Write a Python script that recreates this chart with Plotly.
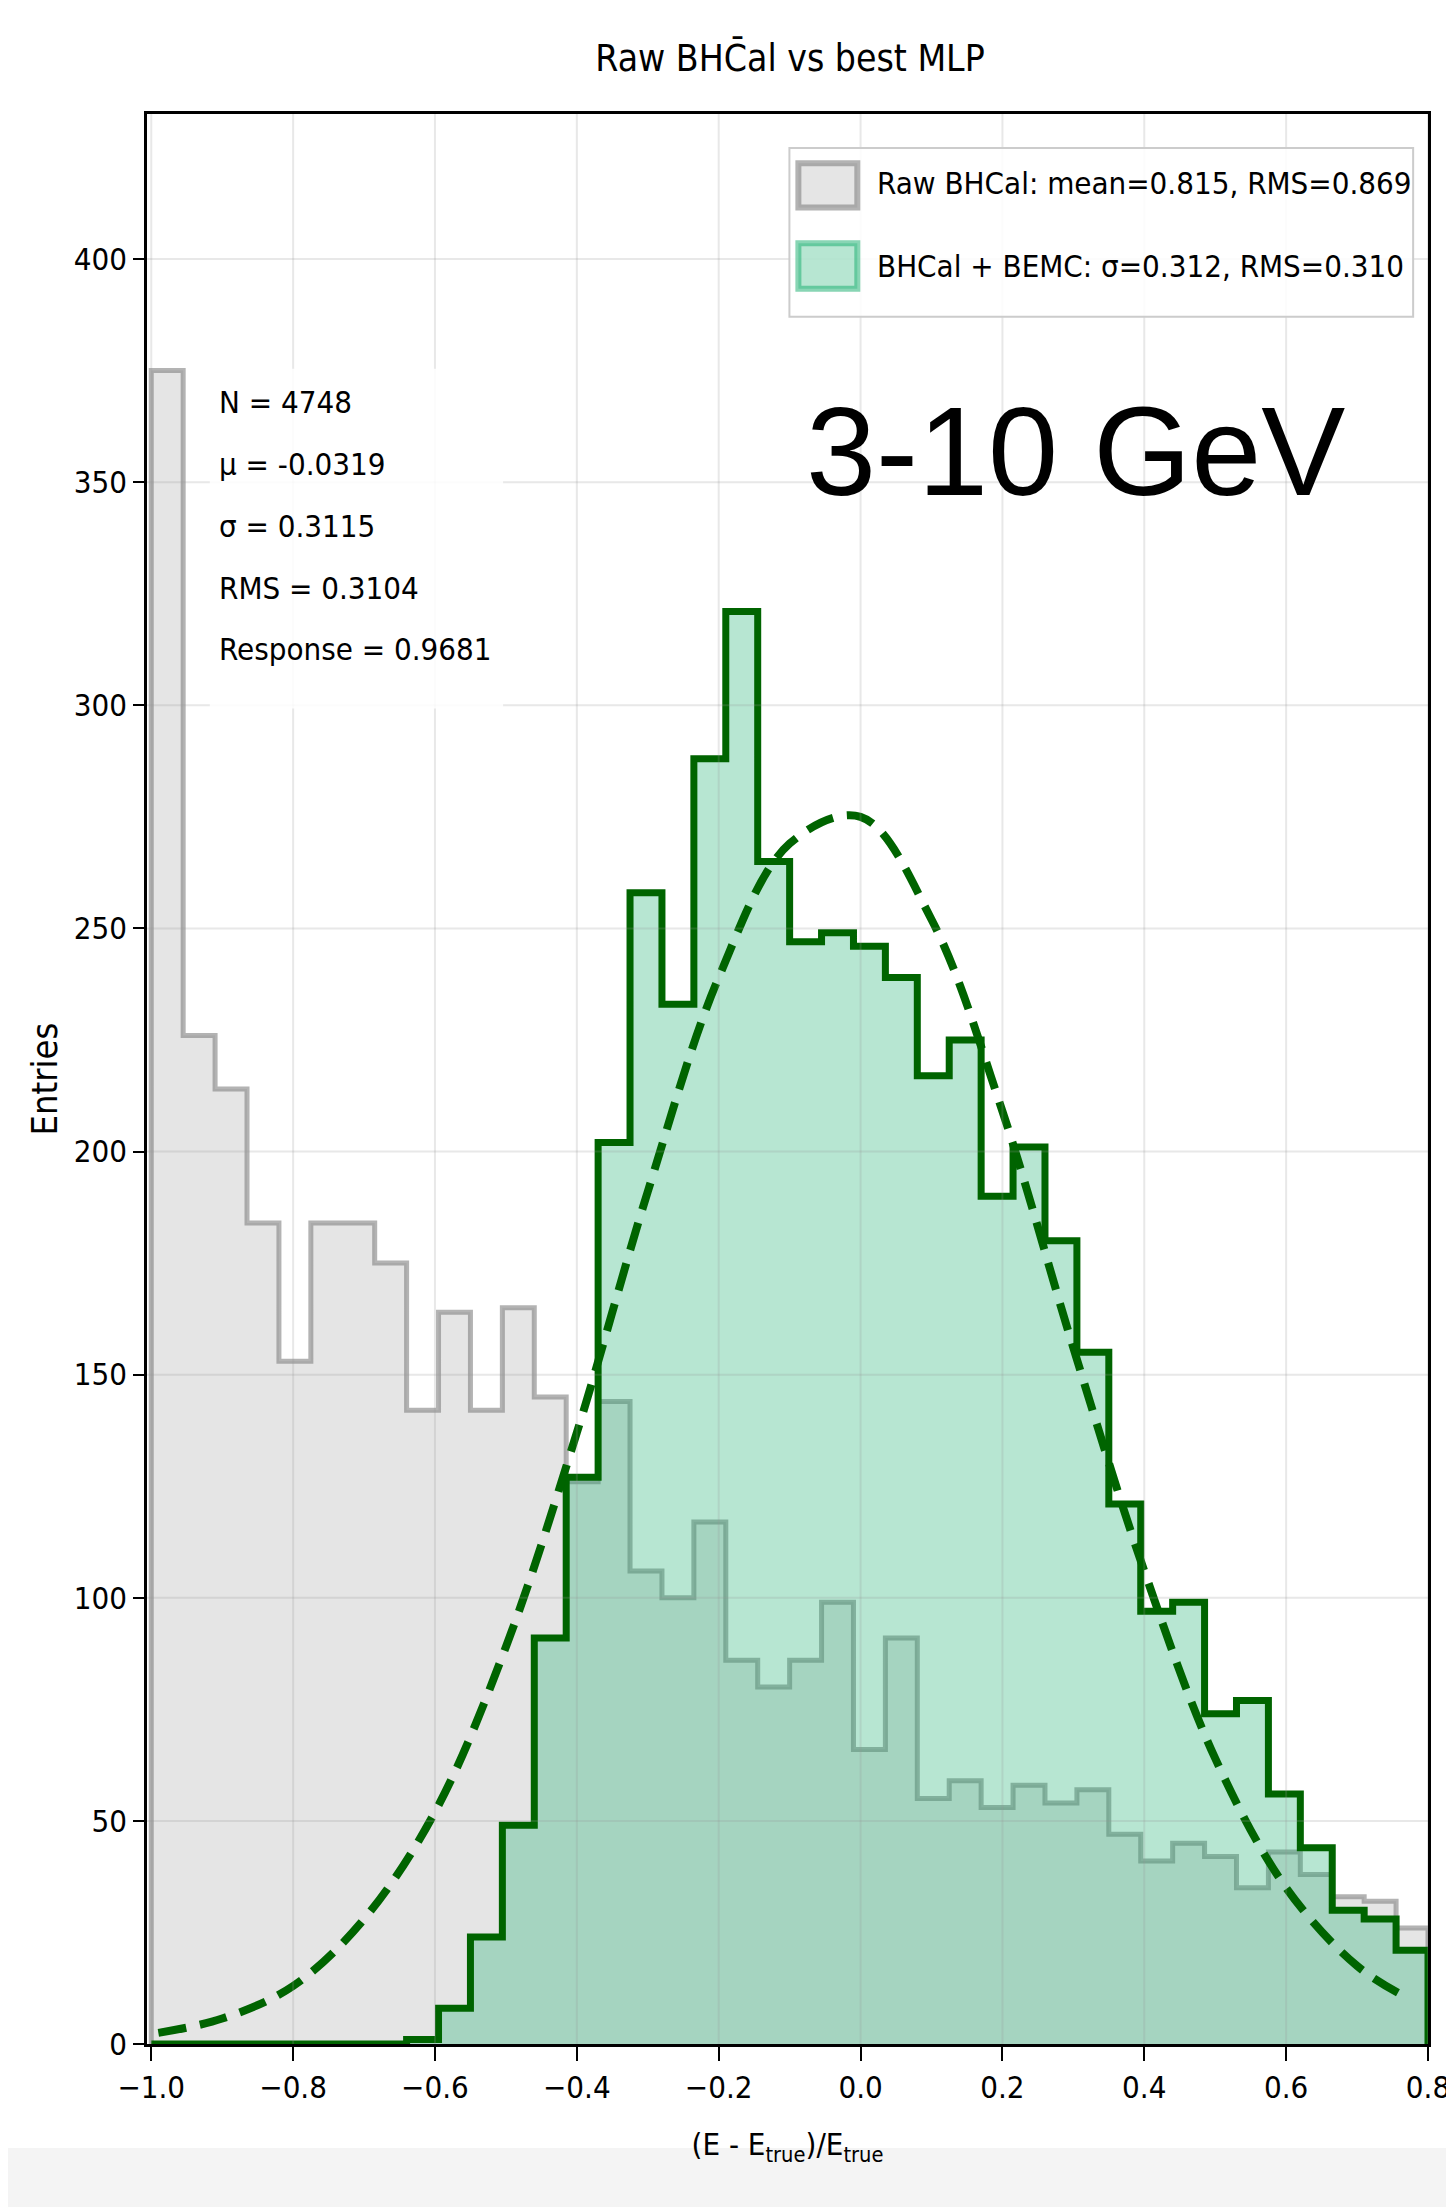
import numpy as np
import plotly.graph_objects as go

# ---------------- data ----------------
BIN_LO, BIN_HI, N_BINS = -1.0, 0.8, 40

raw_bhcal_counts = [375, 226, 214, 184, 153, 184, 184, 175, 142, 164,
                    142, 165, 145, 126, 144, 106, 100, 117, 86, 80,
                    86, 99, 66, 91, 55, 59, 53, 58, 54, 57,
                    47, 41, 45, 42, 35, 43, 38, 33, 32, 26]

mlp_counts = [0, 0, 0, 0, 0, 0, 0, 0, 1, 8,
              24, 49, 91, 127, 202, 258, 233, 288, 321, 265,
              247, 249, 246, 239, 217, 225, 190, 201, 180, 155,
              121, 97, 99, 74, 77, 56, 44, 30, 28, 21]

fit_x = [-0.99, -0.9, -0.8, -0.7, -0.6, -0.5, -0.4, -0.3, -0.2, -0.1,
         0.0, 0.1, 0.2, 0.3, 0.4, 0.5, 0.6, 0.7, 0.775]
fit_y = [2.5, 5.7, 13, 28, 52, 89, 137, 191, 239, 269,
         275, 252, 209, 156, 106, 64, 35, 17.5, 10]

x_tick_vals = [-1.0, -0.8, -0.6, -0.4, -0.2, 0.0, 0.2, 0.4, 0.6, 0.8]
x_tick_labels = ["\u22121.0", "\u22120.8", "\u22120.6", "\u22120.4", "\u22120.2",
                 "0.0", "0.2", "0.4", "0.6", "0.8"]
y_tick_vals = [0, 50, 100, 150, 200, 250, 300, 350, 400]
y_tick_labels = ["0", "50", "100", "150", "200", "250", "300", "350", "400"]

legend_raw = "Raw BHCal: mean=0.815, RMS=0.869"
legend_mlp = "BHCal + BEMC: \u03c3=0.312, RMS=0.310"
stats_lines = ["N = 4748", "\u03bc = -0.0319", "\u03c3 = 0.3115",
               "RMS = 0.3104", "Response = 0.9681"]
energy_label = "3-10 GeV"
title_text = "Raw BHC\u0304al vs best MLP"

# ---------------- styles ----------------
FONT = "DejaVu Sans Condensed, Liberation Sans Narrow, DejaVu Sans, sans-serif"
DARKGREEN = "#006400"
RAW_FILL = "rgba(211,211,211,0.6)"
RAW_EDGE = "rgba(128,128,128,0.6)"
MLP_FILL = "rgba(18,172,105,0.3)"
MLP_EDGE = "rgba(18,172,105,0.5)"

edges = np.linspace(BIN_LO, BIN_HI, N_BINS + 1)


def step_xy(counts):
    xs = [edges[0]] + list(edges[:-1]) + [edges[-1], edges[-1]]
    ys = [0] + list(counts) + [counts[-1], 0]
    return xs, ys


fig = go.Figure()

rx, ry = step_xy(raw_bhcal_counts)
fig.add_trace(go.Scatter(
    x=rx, y=ry, mode="lines", line_shape="hv",
    fill="tozeroy", fillcolor=RAW_FILL,
    line=dict(color=RAW_EDGE, width=5),
    name=legend_raw, showlegend=False, hoverinfo="skip"))

mx, my = step_xy(mlp_counts)
fig.add_trace(go.Scatter(
    x=mx, y=my, mode="lines", line_shape="hv",
    fill="tozeroy", fillcolor=MLP_FILL,
    line=dict(color=MLP_EDGE, width=3),
    name=legend_mlp, showlegend=False, hoverinfo="skip"))

fig.add_trace(go.Scatter(
    x=mx, y=my, mode="lines", line_shape="hv",
    line=dict(color=DARKGREEN, width=7),
    name="BHCal + BEMC (outline)", showlegend=False, hoverinfo="skip"))

fig.add_trace(go.Scatter(
    x=fit_x, y=fit_y, mode="lines", line_shape="spline",
    line=dict(color=DARKGREEN, width=8, dash="28px,14px"),
    name="Gaussian fit", showlegend=False, hoverinfo="skip"))

# grid lines drawn above the filled histograms (faint)
GRID = dict(color="rgba(150,150,150,0.22)", width=2)
for v in x_tick_vals:
    fig.add_shape(type="line", xref="x", yref="paper", x0=v, x1=v, y0=0, y1=1,
                  layer="above", line=GRID)
for v in y_tick_vals[1:]:
    fig.add_shape(type="line", xref="paper", yref="y", x0=0, x1=1, y0=v, y1=v,
                  layer="above", line=GRID)

# stats text box background
fig.add_shape(type="rect", xref="paper", yref="paper",
              x0=0.049, x1=0.278, y0=0.692, y1=0.868,
              fillcolor="rgba(255,255,255,0.85)", line=dict(width=0), layer="above")

# legend box + patches
fig.add_shape(type="rect", xref="paper", yref="paper",
              x0=0.5015, x1=0.9884, y0=0.8950, y1=0.9824,
              fillcolor="rgba(255,255,255,0.85)",
              line=dict(color="#cccccc", width=2), layer="above")
fig.add_shape(type="rect", xref="paper", yref="paper",
              x0=0.5085, x1=0.5545, y0=0.9515, y1=0.9745,
              fillcolor=RAW_FILL, line=dict(color=RAW_EDGE, width=6), layer="above")
fig.add_shape(type="rect", xref="paper", yref="paper",
              x0=0.5085, x1=0.5545, y0=0.9095, y1=0.9330,
              fillcolor=MLP_FILL, line=dict(color=MLP_EDGE, width=6), layer="above")
for txt, yy in [(legend_raw, 0.9645), (legend_mlp, 0.9215)]:
    fig.add_annotation(text=txt, xref="paper", yref="paper",
                       x=0.568, y=yy, xanchor="left", yanchor="middle",
                       showarrow=False,
                       font=dict(family=FONT, size=31, color="black"))

# light band at the bottom of the image
fig.add_shape(type="rect", xref="paper", yref="paper",
              x0=-0.2, x1=1.1, y0=-0.0886, y1=-0.0539,
              fillcolor="#f4f4f4", line=dict(width=0), layer="below")

for i, line in enumerate(stats_lines):
    fig.add_annotation(text=line, xref="paper", yref="paper",
                       x=0.055, y=0.8506 - i * 0.032,
                       xanchor="left", yanchor="middle", showarrow=False,
                       font=dict(family=FONT, size=31, color="black"))

fig.add_annotation(text=energy_label, xref="paper", yref="paper",
                   x=0.513, y=0.825, xanchor="left", yanchor="middle",
                   showarrow=False,
                   font=dict(family="Liberation Sans, Arial, sans-serif",
                             size=126, color="black"))

fig.update_layout(
    width=1454, height=2207,
    margin=dict(l=139, r=23, t=106, b=171),
    paper_bgcolor="white", plot_bgcolor="white",
    font=dict(family=FONT, color="black"),
    title=dict(text=title_text, xref="paper", x=0.502, xanchor="center",
               y=1 - 50 / 2207, yanchor="middle",
               font=dict(family=FONT, size=37, color="black")),
    showlegend=False,
)

fig.update_xaxes(
    range=[-1.006, 0.8], tickmode="array", tickvals=x_tick_vals, ticktext=x_tick_labels,
    ticks="outside", ticklen=14, tickwidth=2, tickcolor="black",
    showline=True, linecolor="black", linewidth=2.5, mirror=True,
    showgrid=False, zeroline=False,
    tickfont=dict(family=FONT, size=31, color="black"),
    title=dict(text="(E - E<sub>true</sub>)/E<sub>true</sub>", standoff=30,
               font=dict(family=FONT, size=31, color="black")))

fig.update_yaxes(
    range=[0, 432.5], tickmode="array", tickvals=y_tick_vals, ticktext=y_tick_labels,
    ticks="outside", ticklen=11, tickwidth=2, tickcolor="black",
    showline=True, linecolor="black", linewidth=2.5, mirror=True,
    showgrid=False, zeroline=False,
    tickfont=dict(family=FONT, size=31, color="black"),
    title=dict(text="Entries", standoff=6,
               font=dict(family=FONT, size=36, color="black")))

fig.write_html("out.html")
